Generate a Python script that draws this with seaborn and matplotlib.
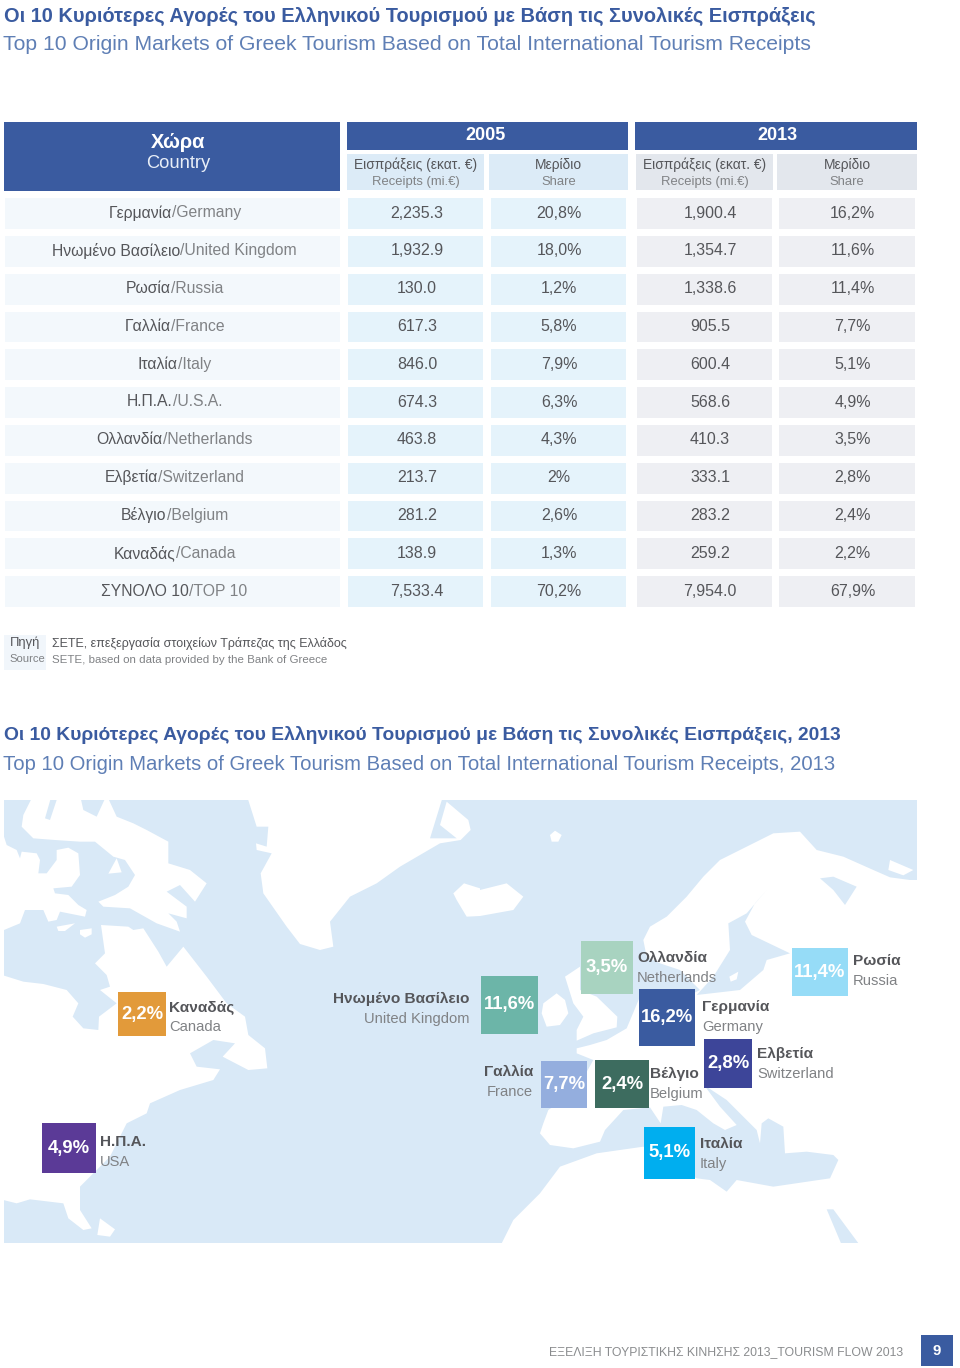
import numpy as np
import matplotlib
matplotlib.use("Agg")
import matplotlib.pyplot as plt
from matplotlib.colors import ListedColormap
from matplotlib.patches import Rectangle, Polygon
import seaborn as sns

# ---------- data ----------
country_el = ["Γερμανία", "Ηνωμένο Βασίλειο", "Ρωσία", "Γαλλία", "Ιταλία", "Η.Π.Α.",
              "Ολλανδία", "Ελβετία", "Βέλγιο", "Καναδάς", "ΣΥΝΟΛΟ 10"]
country_en = ["Germany", "United Kingdom", "Russia", "France", "Italy", "U.S.A.",
              "Netherlands", "Switzerland", "Belgium", "Canada", "TOP 10"]
receipts_2005 = ["2,235.3", "1,932.9", "130.0", "617.3", "846.0", "674.3", "463.8", "213.7", "281.2", "138.9", "7,533.4"]
share_2005 = ["20,8%", "18,0%", "1,2%", "5,8%", "7,9%", "6,3%", "4,3%", "2%", "2,6%", "1,3%", "70,2%"]
receipts_2013 = ["1,900.4", "1,354.7", "1,338.6", "905.5", "600.4", "568.6", "410.3", "333.1", "283.2", "259.2", "7,954.0"]
share_2013 = ["16,2%", "11,6%", "11,4%", "7,7%", "5,1%", "4,9%", "3,5%", "2,8%", "2,4%", "2,2%", "67,9%"]

tile_share = ["11,6%", "3,5%", "16,2%", "11,4%", "2,8%", "7,7%", "2,4%", "5,1%", "2,2%", "4,9%"]
tile_el = ["Ηνωμένο Βασίλειο", "Ολλανδία", "Γερμανία", "Ρωσία", "Ελβετία", "Γαλλία", "Βέλγιο", "Ιταλία", "Καναδάς", "Η.Π.Α."]
tile_en = ["United Kingdom", "Netherlands", "Germany", "Russia", "Switzerland", "France", "Belgium", "Italy", "Canada", "USA"]

# ---------- styles / layout ----------
BLUE = "#3a5ba0"; DARK = "#55565a"; GREY = "#808285"; WATER = "#d9e9f7"
tile_colors = sns.color_palette(["#6cb5a8", "#a8d3c0", "#3a5ba0", "#96dcf7", "#3d4599",
                                 "#94aede", "#3d6c5f", "#00aeef", "#e29a3a", "#5b3a97"])
tile_box = [(481, 976, 538, 1034), (581, 941, 633, 994), (639, 989, 695, 1046), (792, 948, 848, 996),
            (704, 1039, 752, 1088), (541, 1061, 587, 1108), (595, 1060, 649, 1108), (644, 1127, 695, 1179),
            (118, 992, 166, 1036), (42, 1123, 96, 1173)]
tile_label = [(469, 998, "right"), (637, 957, "left"), (702, 1006, "left"), (853, 960, "left"),
              (757, 1053, "left"), (533, 1071, "right"), (650, 1073, "left"), (700, 1143, "left"),
              (169, 1006, "left"), (100, 1141, "left")]

WEST = (0, 790)
ARCTIC = (0, 795)
EAST = (480, 790)
land_arctic = [
    [(100,0),(70,60),(65,95),(100,130),(165,135),(240,140),(285,140),(340,185),(375,195),(405,240),(385,275),(345,300),(295,320),(310,335),(390,340),(470,385),(540,410),(530,380),(505,355),(560,370),(560,335),(500,290),(540,270),(585,320),(620,265),(570,225),(505,205),(505,140),(440,105),(400,85),(350,65),(320,0),(290,65),(250,45),(240,0),(175,0),(150,75),(135,70),(155,0)],
    [(350,190),(365,232),(325,236)],
    [(-10,125),(-10,405),(12,405),(60,385),(75,345),(130,345),(145,380),(170,375),(180,350),(255,365),(260,345),(235,330),(205,300),(165,295),(160,280),(215,275),(240,240),(235,175),(205,158),(170,165),(170,195),(140,235),(115,235),(120,195),(110,175),(65,170),(60,190),(50,165),(20,150),(12,125)],
    [(170,395),(225,385),(195,408),(175,408)],
    [(240,405),(275,400),(275,418),(255,428),(240,418)],
]
land_west = [
    [(-10,550),(70,575),(130,582),(200,600),(235,640),(218,680),(250,715),(295,720),(297,680),(350,640),(300,600),(330,590),(320,555),(285,520),(315,490),(303,405),(385,410),(400,420),(430,415),(475,485),(500,530),(550,470),(620,560),(680,640),(735,680),(745,735),(795,775),(802,835),(745,840),(668,800),(705,760),(640,750),(570,790),(590,830),(660,838),(640,870),(540,900),(450,940),(440,970),(380,1000),(330,1100),(280,1150),(240,1190),(240,1260),(275,1315),(250,1320),(205,1285),(190,1240),(90,1228),(50,1240),(-10,1225)],
    [(300,1285),(345,1318),(330,1340),(292,1335)],
    [(740,15),(770,110),(805,110),(800,170),(768,160),(770,180),(815,190),(782,250),(790,310),(860,410),(900,462),(960,480),(1000,470),(990,395),(1050,320),(1130,280),(1200,230),(1320,160),(1382,150),(1412,120),(1405,90),(1340,35),(1320,105),(1370,145),(1290,145),(1330,15)],
    [(1360,310),(1392,280),(1440,295),(1440,378),(1400,380),(1370,330)],
]
land_east = [
    [(0,300),(80,280),(130,320),(100,360),(0,378)],
    [(210,135),(225,122),(245,135),(235,155),(215,155)],
    [(185,670),(190,640),(230,610),(255,630),(265,670),(240,705),(200,710)],
    [(255,560),(300,530),(300,600),(350,620),(412,680),(410,712),(340,730),(290,752),(290,720),(310,680),(280,640)],
    [(1230,210),(1300,240),(1270,256),(1225,240)],
    # Eurasia with North Africa
    [(490,450),(510,410),(560,380),(620,320),(670,260),(720,210),(800,170),(880,130),(960,125),(1010,180),(1090,200),(1180,240),(1230,262),(1290,270),(1340,270),(1340,1400),(1165,1400),(1060,1258),(1040,1258),(1100,1400),(45,1400),(100,1290),(180,1210),(240,1130),(350,1090),(490,1070),(650,1165),(690,1170),(740,1205),(770,1170),(880,1190),(1050,1165),(1075,1110),(1060,1095),(980,1085),(915,1090),(910,1010),(865,985),(845,1000),(840,1060),(830,1020),(800,990),(740,930),(672,885),(720,950),(770,1005),(735,1020),(700,1000),(650,960),(605,945),(550,950),(542,1000),(510,952),(430,960),(375,1020),(360,1055),(280,1075),(210,1065),(180,1030),(190,1000),(205,960),(290,900),(340,810),(290,790),(290,775),(330,765),(380,750),(440,715),(480,620),(620,620),(660,600),(600,540),(540,520),(500,500)],
]
water_east = [
    # Baltic
    [(860,300),(825,340),(795,395),(815,435),(930,490),(860,510),(850,540),(780,600),(650,615),(700,560),(750,480),(745,400),(800,370)],
    # White Sea
    [(1020,265),(1060,260),(1130,290),(1095,345),(1060,300)],
]
land_over_water = [
    [(748,560),(775,545),(770,568),(752,575)],
]

FIG_W, FIG_H = 960, 1368


def conv(poly, origin):
    return [(x / 3 + origin[0], y / 3 + origin[1]) for x, y in poly]


sns.set_theme(style="white", rc={"axes.linewidth": 0})
plt.rcParams["font.family"] = ["Liberation Sans", "DejaVu Sans"]
fig = plt.figure(figsize=(FIG_W / 100, FIG_H / 100), dpi=100, facecolor="white")
ax = fig.add_axes([0, 0, 1, 1])
ax.set_xlim(0, FIG_W)
ax.set_ylim(FIG_H, 0)
ax.axis("off")


def px(size):
    return size * 0.72


def txt(x, y, s, size, color=DARK, weight="normal", ha="left"):
    return ax.text(x, y, s, fontsize=px(size), color=color, weight=weight, ha=ha, va="center", zorder=5)


def box(x0, y0, x1, y1, color, z=1):
    ax.add_patch(Rectangle((x0, y0), x1 - x0, y1 - y0, fc=color, ec="none", zorder=z))


# titles
T1_EL = "Οι 10 Κυριότερες Αγορές του Ελληνικού Τουρισμού με Βάση τις Συνολικές Εισπράξεις"
T1_EN = "Top 10 Origin Markets of Greek Tourism Based on Total International Tourism Receipts"
txt(4, 16, T1_EL, 20, BLUE, "bold")
txt(3, 45, T1_EN, 21.2, "#5f7fb5")
txt(4, 735, T1_EL + ", 2013", 19.24, BLUE, "bold")
txt(3, 764, T1_EN + ", 2013", 20.27, "#5f7fb5")

# table header
box(4, 122, 340, 191, BLUE)
box(347, 122, 628, 150, BLUE)
box(635, 122, 917, 150, BLUE)
txt(178, 142, "Χώρα", 20, "white", "bold", "center")
txt(178, 163, "Country", 18.4, "#e8eef7", ha="center")
txt(485, 136, "2005", 18, "white", "bold", "center")
txt(777, 136, "2013", 18, "white", "bold", "center")
for x0, x1, c, a, b in [(347, 484, "#dcebf7", "Εισπράξεις (εκατ. €)", "Receipts (mi.€)"),
                        (489, 628, "#dcebf7", "Μερίδιο", "Share"),
                        (636, 773, "#e3e7ed", "Εισπράξεις (εκατ. €)", "Receipts (mi.€)"),
                        (777, 917, "#e3e7ed", "Μερίδιο", "Share")]:
    box(x0, 154, x1, 190, c)
    cx = (x0 + x1) / 2
    txt(cx, 165, a, 13.7, DARK, ha="center")
    txt(cx, 182, b, 13, GREY, ha="center")

# table body: one heatmap per column
PITCH = 37.8
GAP = 6.6
Y0 = 197.5 - GAP / 2
Y1 = Y0 + PITCH * 11
columns = [(4, 340, "#f3f8fc", None, 0),
           (347, 483, "#e5f3fb", receipts_2005, 2),
           (490, 626, "#e5f3fb", share_2005, 1),
           (636, 772, "#eeeff3", receipts_2013, 6),
           (778, 915, "#eeeff3", share_2013, 6)]
for x0, x1, c, vals, dx in columns:
    l, r = x0 - GAP / 2, x1 + GAP / 2
    cax = fig.add_axes([l / FIG_W, 1 - Y1 / FIG_H, (r - l) / FIG_W, (Y1 - Y0) / FIG_H], zorder=2)
    grid = np.zeros((11, 1))
    annot = np.array(vals).reshape(-1, 1) if vals else False
    sns.heatmap(grid, ax=cax, cmap=ListedColormap([c]), cbar=False, annot=annot, fmt="",
                annot_kws={"fontsize": px(16), "color": DARK}, linewidths=GAP * 0.72, linecolor="white",
                xticklabels=False, yticklabels=False)
    for t in cax.texts:
        tx, ty = t.get_position()
        t.set_position((tx + dx / (r - l), ty))

# two-tone country labels
ax.set_zorder(3)
ax.patch.set_alpha(0)
renderer = fig.canvas.get_renderer()
for i, (g, e) in enumerate(zip(country_el, country_en)):
    y = 197.5 + 15.5 + i * PITCH
    a = txt(0, y, g, 15.7, DARK)
    b = txt(0, y, "/" + e, 15.7, GREY)
    wa = a.get_window_extent(renderer).width
    wb = b.get_window_extent(renderer).width
    start = 174.5 - (wa + wb) / 2
    a.set_x(start)
    b.set_x(start + wa)

# source
box(4, 635, 46, 670, "#f1f6fb")
txt(10, 643, "Πηγή", 13, DARK)
txt(9, 659, "Source", 11.3, GREY)
txt(52, 643, "ΣΕΤΕ, επεξεργασία στοιχείων Τράπεζας της Ελλάδος", 12.5, DARK)
txt(52, 660, "SETE, based on data provided by the Bank of Greece", 11.5, GREY)

# map
box(4, 800, 917, 1243, WATER)
for group, origin in [(land_west, WEST), (land_arctic, ARCTIC), (land_east, EAST)]:
    for poly in group:
        ax.add_patch(Polygon(conv(poly, origin), closed=True, fc="white", ec="none", zorder=1.1))
for poly in water_east:
    ax.add_patch(Polygon(conv(poly, EAST), closed=True, fc=WATER, ec="none", zorder=1.2))
for poly in land_over_water:
    ax.add_patch(Polygon(conv(poly, EAST), closed=True, fc="white", ec="none", zorder=1.3))

for (x0, y0, x1, y1), c, s, g, e, (lx, ly, ha) in zip(tile_box, tile_colors, tile_share, tile_el, tile_en, tile_label):
    box(x0, y0, x1, y1, c, 1.5)
    txt((x0 + x1) / 2, (y0 + y1) / 2, s, 18.5, "white", "bold", "center")
    txt(lx, ly + 1, g, 15.4, DARK, "bold", ha)
    txt(lx, ly + 21, e, 14.7, GREY, ha=ha)

# footer
txt(903, 1352, "ΕΞΕΛΙΞΗ ΤΟΥΡΙΣΤΙΚΗΣ ΚΙΝΗΣΗΣ 2013_TOURISM FLOW 2013", 12.2, "#8a8c8e", ha="right")
box(921, 1335, 953, 1366, BLUE)
txt(937, 1351, "9", 15, "white", "bold", "center")

fig.savefig("out.png", dpi=100, facecolor="white")
